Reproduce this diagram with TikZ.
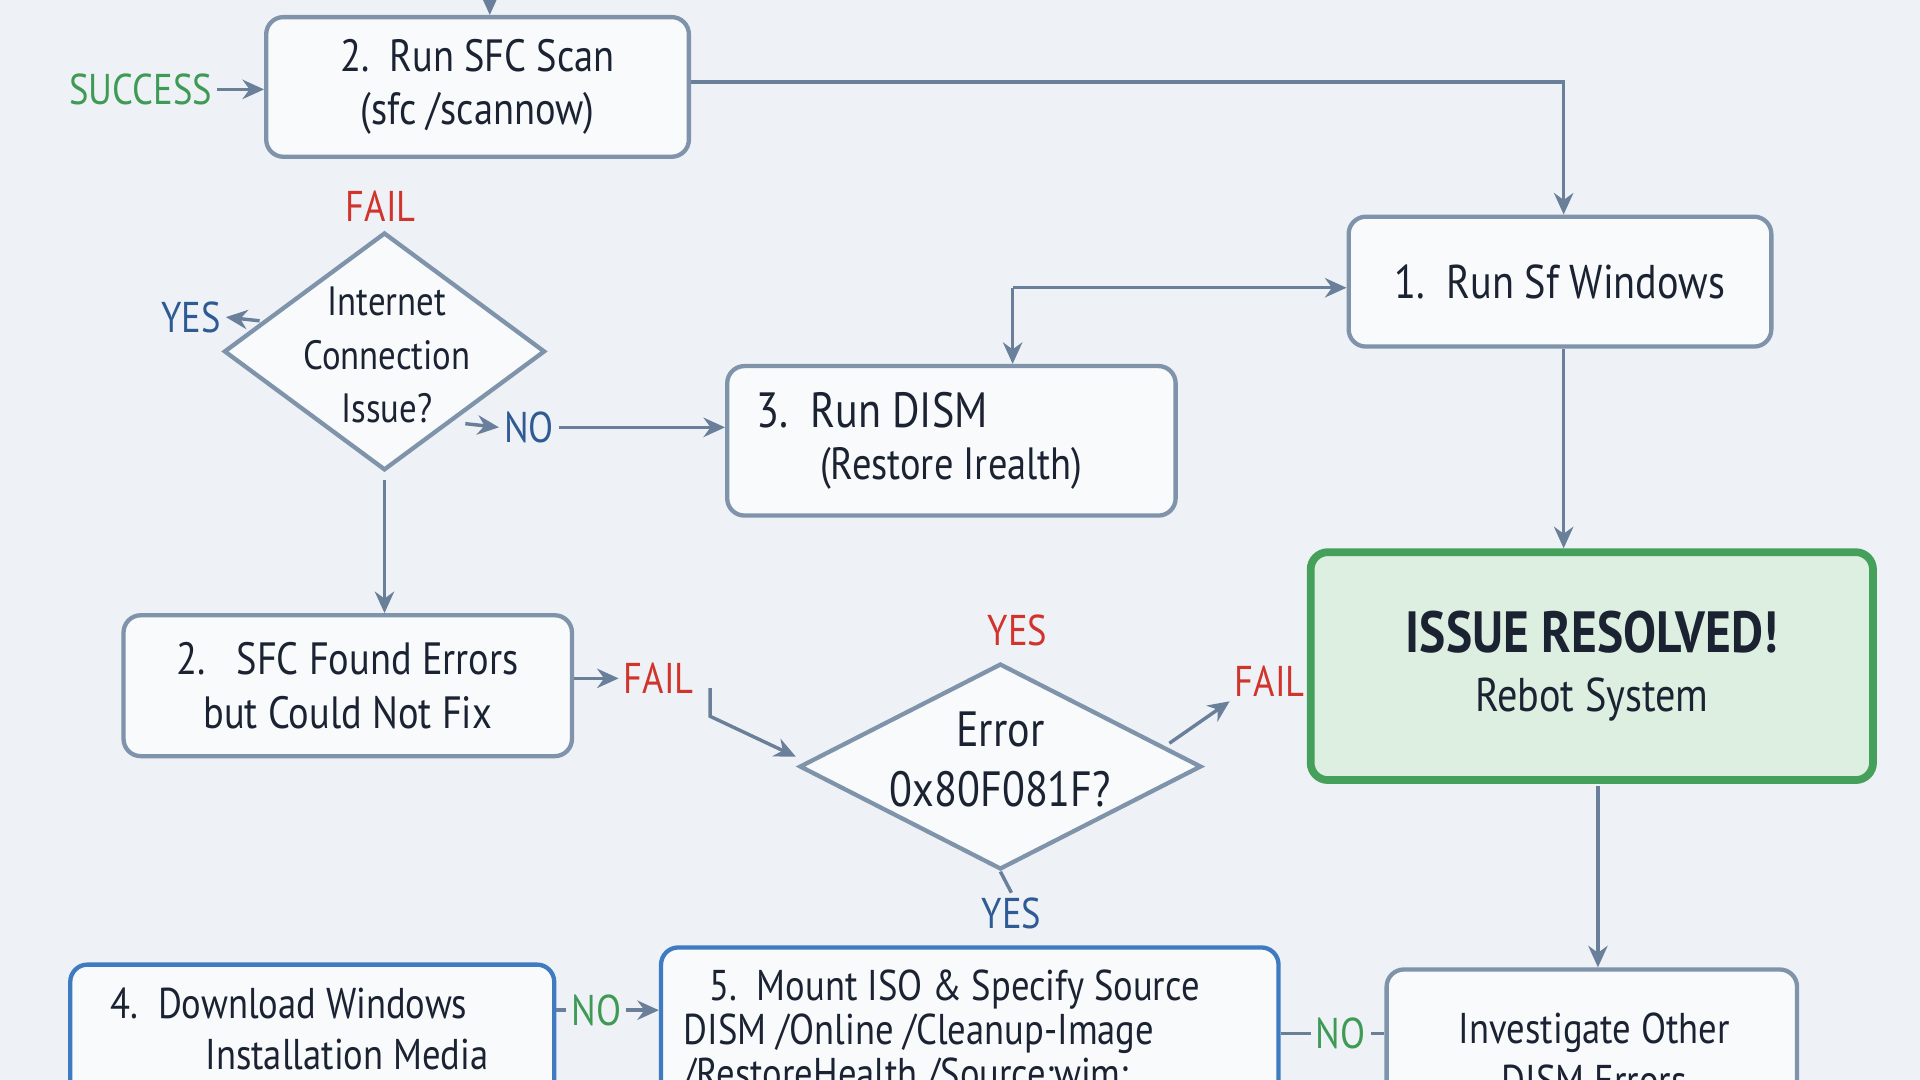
\documentclass[tikz,border=0pt]{standalone}
\usepackage{fontspec}
\setmainfont{PT Sans}[FakeStretch=0.85]
\usetikzlibrary{arrows.meta,shapes.geometric}
\definecolor{bd}{HTML}{7F93AB}
\definecolor{bx}{HTML}{F8FAFC}
\definecolor{tx}{HTML}{1B2333}
\definecolor{ar}{HTML}{6A7F99}
\definecolor{gr}{HTML}{3E9A55}
\definecolor{rd}{HTML}{D0342C}
\definecolor{bl}{HTML}{2F5B94}
\definecolor{gfill}{HTML}{DDEFE0}
\definecolor{gbd}{HTML}{44A05A}
\definecolor{bbd}{HTML}{3F7BC0}
\definecolor{bg}{HTML}{EEF2F6}
\tikzset{
 box/.style={draw=bd,line width=1pt,fill=bx,rounded corners=4pt,text=tx,align=center,font=\fontsize{10.5}{12.5}\selectfont,inner sep=0pt},
 dia/.style={diamond,aspect=1,draw=bd,line width=1pt,fill=bx,text=tx,align=center,inner sep=0pt},
 con/.style={draw=ar,line width=0.8pt,-{Stealth[length=5pt,width=4.5pt]}},
 ln/.style={draw=ar,line width=0.8pt},
 lab/.style={font=\fontsize{10}{12}\selectfont,inner sep=1pt}
}
\begin{document}
\begin{tikzpicture}[x=0.01cm,y=-0.01cm]
\useasboundingbox (0,0) rectangle (1568,882);
\clip (0,0) rectangle (1568,882);
\fill[bg] (0,0) rectangle (1568,882);
% boxes
\node[box,minimum width=3.45cm,minimum height=1.14cm] (A) at (390,71) {2.~~Run SFC Scan\\(sfc /scannow)};
\node[box,minimum width=3.45cm,minimum height=1.06cm,font=\fontsize{11}{12}\selectfont] (B) at (1274,230) {1.~~Run Sf Windows};
\node[box,minimum width=3.66cm,minimum height=1.22cm,font=\fontsize{11.5}{13}\selectfont] (C) at (777,360) {\hspace*{-3.2em}3.~~Run DISM\\[-1pt]{\fontsize{10.5}{12}\selectfont(Restore Irealth)}};
\node[dia,minimum width=2.62cm,minimum height=1.94cm] (D) at (314,287) {};
\node[text=tx,align=center,font=\fontsize{9.5}{12.5}\selectfont] at (316,290) {Internet\\Connection\\Issue?};
\node[box,minimum width=3.66cm,minimum height=1.15cm] (E) at (284,560) {2.~~~SFC Found Errors\\but Could Not Fix};
\node[dia,minimum width=3.28cm,minimum height=1.68cm] (F) at (817,626) {};
\node[text=tx,align=center,font=\fontsize{11.5}{14}\selectfont] at (817,620) {Error\\0x80F081F?};
\node[box,draw=gbd,line width=1.8pt,fill=gfill,minimum width=4.59cm,minimum height=1.86cm] (G) at (1300,544) {{\fontsize{13.5}{15}\selectfont\bfseries ISSUE RESOLVED!}\\[1pt]{\fontsize{11}{13}\selectfont Rebot System}};
\node[box,minimum width=3.35cm,minimum height=1.3cm,anchor=north] (H) at (1300,790) {};
\node[text=tx,align=center,font=\fontsize{10}{12}\selectfont,anchor=north] at (1302,815) {Investigate Other\\DISM Errors};
\node[box,draw=bbd,minimum width=5.04cm,minimum height=1.5cm,anchor=north] (I) at (792,772) {};
\node[text=tx,align=left,font=\fontsize{10}{10.2}\selectfont,anchor=north west] at (546,780) {\hspace*{0.6em}5.~~Mount ISO \& Specify Source\\DISM /Online /Cleanup-Image\\/RestoreHealth /Source:wim:};
\node[box,draw=bbd,minimum width=3.95cm,minimum height=1.4cm,anchor=north] (J) at (255,786) {};
\node[text=tx,align=left,font=\fontsize{10}{12}\selectfont,anchor=north west] at (78,794) {4.~~Download Windows\\\hspace*{2.2em}Installation Media};
% labels
\node[lab,text=gr] (succ) at (115,73) {SUCCESS};
\node[lab,text=rd] at (311,168) {FAIL};
\node[lab,text=bl] (yes1) at (156,259) {YES};
\node[lab,text=bl] (no1) at (432,349) {NO};
\node[lab,text=rd] (fail2) at (538,554) {FAIL};
\node[lab,text=rd] at (831,515) {YES};
\node[lab,text=rd] (fail3) at (1037,556) {FAIL};
\node[lab,text=bl] (yes2) at (826,746) {YES};
\node[lab,text=gr] (no2) at (1095,844) {NO};
\node[lab,text=gr] (no3) at (487,825) {NO};
% connectors
\coordinate (top) at (400,-5);
\draw[con] (top) -- (A.north -| top);
\draw[con] (succ.east) -- (A.west |- succ);
\coordinate (c1) at (1277,67);
\draw[con] (A.east |- c1) -- (c1) -- (B.north -| c1);
\coordinate (c2) at (827,235);
\draw[con] (c2) -- (B.west |- c2);
\draw[con] (c2) -- (C.north -| c2);
\coordinate (dl) at (212,262);
\draw[con] (dl) -- (yes1.east);
\coordinate (dn) at (380,346);
\draw[con] (dn) -- (no1.west);
\draw[con] (no1.east) -- (C.west |- no1);
\draw[con] (D.south) ++(0,6) -- (E.north -| D.south);
\draw[con] (E.east |- fail2) -- (fail2.west);
\coordinate (c3) at (580,562);
\draw[con] (c3) -- (580,585) -- (650,618);
\coordinate (fr) at (955,607);
\draw[con] (fr) -- (fail3.south west);
\draw[con] (B.south -| c1) -- (G.north -| c1);
\coordinate (c4) at (1305,642);
\draw[con] (c4) -- (H.north -| c4);
\draw[ln] (F.south) -- (yes2.north);
\draw[ln] (I.east |- no2) -- (no2.west);
\draw[ln] (no2.east) -- (H.west |- no2);
\draw[ln] (J.east |- no3) -- (no3.west);
\draw[con] (no3.east) -- (I.west |- no3);
\end{tikzpicture}
\end{document}
